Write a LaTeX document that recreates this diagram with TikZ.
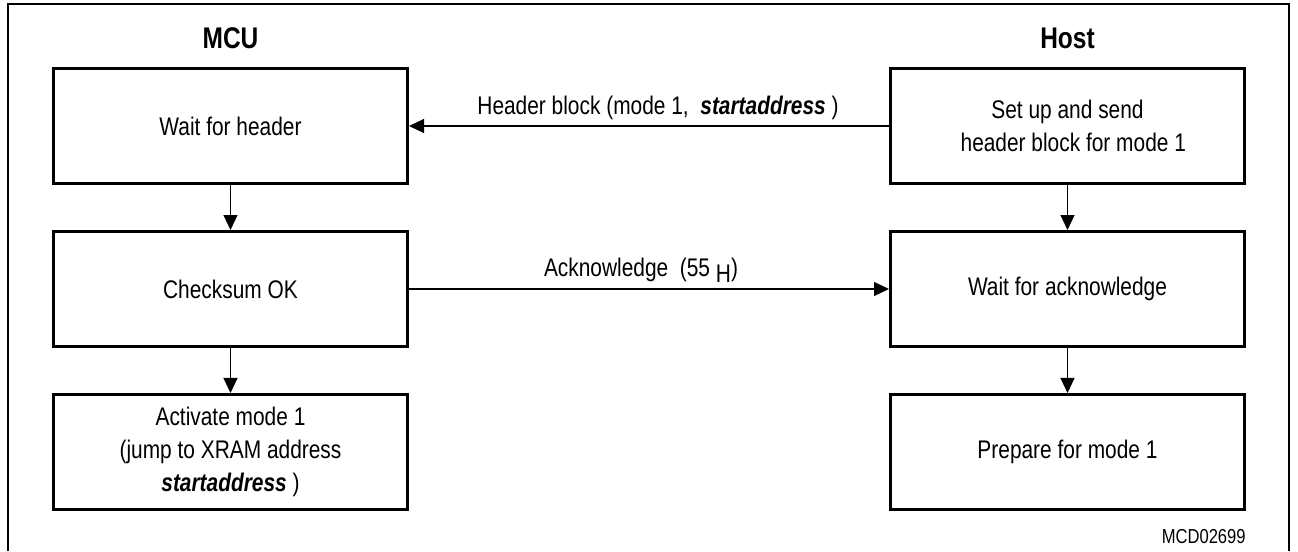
\documentclass[tikz,border=0pt]{standalone}
\usepackage{fontspec}
\setmainfont{Liberation Sans}[FakeStretch=0.82]
\usetikzlibrary{arrows.meta,positioning}

\begin{document}
\begin{tikzpicture}[
  font=\fontsize{14.5}{19}\selectfont,
  box/.style={rectangle, draw=black, line width=1.7pt,
              minimum width=7.08cm, minimum height=2.3cm,
              align=center, inner sep=2pt},
  side/.style={font=\fontsize{17}{20}\selectfont\bfseries, inner sep=0pt},
  arr/.style={-{Triangle[length=0.3cm, width=0.28cm]}, line width=0.6pt},
]
\useasboundingbox (0,0) rectangle (25.96,-11.02);
\draw[line width=1.2pt] (0.16,-11.02) -- (0.16,-0.08) -- (25.78,-0.08) -- (25.78,-11.02);

\node[box] (wait) at (4.61,-2.52) {Wait for header};
\node[box, below=0.9cm of wait]  (check) {Checksum OK};
\node[box, below=0.9cm of check] (act)   {Activate mode 1\\(jump to XRAM address\\\textbf{\textit{startaddress}} )};
\node[box, right=9.6cm of wait]  (setup) {Set up and send\\\ \ header block for mode 1};
\node[box, below=0.9cm of setup] (ack)   {Wait for acknowledge};
\node[box, below=0.9cm of ack]   (prep)  {Prepare for mode 1};

\node[side, above=0.36cm of wait]  (mcu)  {MCU};
\node[side, above=0.36cm of setup] (host) {Host};

\draw[arr] (setup) -- node[above, xshift=0.18cm] {Header block (mode 1,\ \ \textbf{\textit{startaddress}} )} (wait);
\draw[arr] (check) -- node[above, xshift=-0.16cm] {Acknowledge\ \ (55 \raisebox{-0.45ex}{H})} (ack);
\draw[arr] (wait)  -- (check);
\draw[arr] (check) -- (act);
\draw[arr] (setup) -- (ack);
\draw[arr] (ack)   -- (prep);

\node[font=\fontsize{11.5}{13}\selectfont, inner sep=0pt,
      below left=0.36cm and 0cm of prep.south east] (code) {MCD02699};
\end{tikzpicture}
\end{document}
